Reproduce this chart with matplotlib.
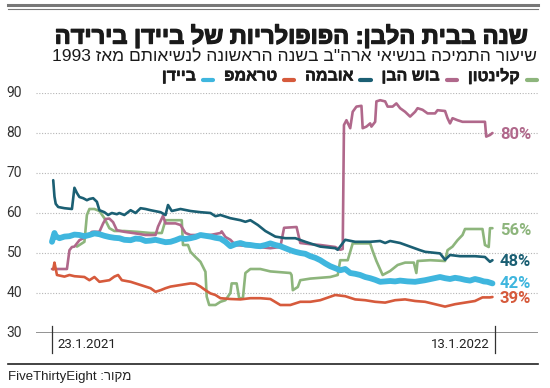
import matplotlib
matplotlib.use("Agg")
import matplotlib.pyplot as plt
import matplotlib.patheffects as pe

# days since inauguration (0 = day 1) and approval %
clinton_days = [20, 22, 26, 28, 30, 34, 38, 42, 46, 50, 58, 68, 79, 88, 91, 104, 105, 109, 111, 115,
                119, 123, 124, 126, 131, 135, 139, 143, 144, 148, 150, 153, 155, 159, 167, 175, 183,
                191, 192, 193, 197, 199, 207, 215, 223, 229, 231, 237, 241, 255, 257, 260, 265, 271,
                277, 283, 290, 292, 293, 303, 315, 317, 321, 325, 329, 331, 345, 347, 350, 351, 353]
clinton_vals = [51.6, 52, 52.8, 59.5, 61, 61, 60.5, 58.7, 56.2, 55.5, 55.5, 55.3, 55, 55, 58.2, 58.2,
                52, 52, 50.3, 49, 47.8, 45.3, 39.1, 37, 37, 37.8, 38.2, 40, 42.4, 42.4, 38.7, 38.7,
                45, 46, 46, 45.4, 45.2, 45, 44.5, 40.7, 41.5, 43.2, 43.6, 43.8, 44, 44.5, 48.2, 48.2,
                52.4, 52.4, 50.5, 48, 44.5, 45.5, 47, 47.6, 47.6, 45, 48, 48.2, 48, 50.7, 51.6, 53.2,
                54.5, 56, 56, 52, 51.5, 56.2, 56.2]

bush_days = [0, 12, 14, 16, 18, 22, 29, 32, 38, 41, 43, 46, 49, 52, 58, 67, 75, 83, 85, 89, 91, 99,
             103, 107, 111, 127, 135, 136, 139, 143, 147, 159, 175, 183, 186, 196, 199, 207, 215, 227,
             231, 233, 234, 236, 239, 241, 244, 248, 249, 252, 255, 256, 259, 260, 263, 267, 269, 273,
             276, 279, 283, 287, 291, 293, 297, 301, 307, 309, 315, 317, 319, 321, 325, 329, 347, 348,
             351, 353]
bush_vals = [46, 46, 50.7, 51.5, 51.6, 53.2, 54.3, 55.3, 55.3, 57.4, 58.5, 58.6, 57.7, 55.7, 55.3, 54.9,
             54.5, 54.5, 56.6, 59.3, 57.4, 57.4, 57, 55, 54.5, 54.5, 55, 55.4, 54, 53.3, 52, 51.7, 51.2,
             51.5, 56.3, 56.5, 52.5, 52.2, 52, 51.5, 50.8, 51, 82, 83.2, 81.2, 85.3, 86.6, 86.8, 81.2,
             81.6, 82.4, 81.6, 82.8, 87.9, 88.2, 87.9, 86.6, 86.6, 87.4, 86.2, 85.3, 84.1, 85.3, 86.2,
             85.8, 84.9, 84.9, 85.7, 85.5, 83.7, 82.4, 83.7, 83.2, 82.8, 82.8, 79.1, 79.5, 80]

obama_days = [1, 2, 3, 5, 10, 16, 18, 20, 22, 25, 28, 30, 33, 36, 38, 42, 45, 48, 52, 54, 58, 63, 67,
              71, 75, 79, 87, 91, 93, 96, 103, 111, 119, 127, 131, 135, 143, 151, 155, 159, 165, 171,
              179, 187, 195, 203, 215, 227, 229, 235, 243, 255, 263, 267, 271, 279, 287, 295, 299, 311,
              315, 319, 327, 339, 347, 351, 353]
obama_vals = [68.2, 64.1, 62.3, 61.5, 61.2, 61, 66.3, 65, 64, 63.7, 63.2, 63.5, 63.7, 62.8, 60.7, 60.2,
              59.5, 60, 59.7, 60, 59.5, 60.7, 60, 61.2, 61, 60.7, 60.2, 59.5, 62, 60.5, 61, 60.5, 60.2,
              60, 59.2, 59.5, 58.7, 58.2, 57.8, 58.2, 57, 55.5, 54.1, 53.7, 53.7, 52.8, 51.6, 51.2, 50.8,
              53.3, 52.8, 52.8, 53, 52.5, 53, 52.5, 51.6, 50.7, 50.3, 49.9, 48.3, 49.5, 49.2, 49.2, 49,
              47.8, 48.2]

trump_days = [1, 2, 4, 10, 14, 18, 22, 26, 30, 34, 38, 42, 46, 50, 53, 56, 63, 71, 75, 79, 83, 87, 91,
              95, 103, 107, 111, 115, 119, 123, 127, 131, 135, 143, 151, 159, 167, 175, 183, 191, 199,
              207, 215, 227, 235, 243, 251, 259, 267, 275, 283, 291, 299, 307, 315, 323, 331, 339, 345,
              351, 353]
trump_vals = [45.9, 47.6, 44.5, 44.1, 44.5, 44.2, 44.1, 44, 43.2, 44, 42.8, 43, 43.2, 44.1, 44.5, 43.2,
              42.8, 42, 41.6, 41.2, 40.3, 40.7, 41.2, 41.6, 42, 42.2, 42.4, 42.3, 41.6, 40.7, 39.9, 39.5,
              38.7, 38.5, 38.4, 38.7, 38.7, 38.5, 37, 37, 37.8, 37.8, 38.2, 39.5, 39.2, 38.4, 38.2, 37.8,
              37.6, 38.2, 38.4, 38, 37.8, 37.2, 36.6, 37.2, 37.6, 38, 38.9, 38.9, 39]

biden_days = [0, 2, 3, 6, 10, 14, 18, 22, 26, 30, 34, 38, 42, 46, 50, 54, 58, 63, 67, 71, 75, 79, 83,
              87, 91, 95, 99, 103, 107, 111, 115, 119, 123, 127, 131, 135, 139, 143, 147, 151, 155,
              159, 163, 167, 171, 175, 179, 183, 187, 191, 195, 199, 203, 207, 211, 215, 219, 223, 227,
              231, 235, 239, 243, 247, 251, 255, 259, 263, 267, 271, 275, 279, 285, 291, 295, 299, 305,
              311, 315, 319, 323, 327, 331, 335, 339, 343, 346, 349, 353]
biden_vals = [52.8, 55, 54.2, 53.7, 54.1, 54.2, 54.6, 54.5, 54.2, 54.5, 54.9, 54.7, 54.3, 54, 53.8, 53.7,
              53.3, 53.2, 53.6, 53.5, 53.0, 53.1, 53.3, 53, 52.7, 52.8, 53.2, 53.7, 53.5, 53.7, 54.0,
              54.5, 54.3, 54.1, 53.8, 53.6, 52.8, 51.7, 52.2, 52.5, 52.1, 52, 51.8, 51.7, 52.0, 52.4,
              52.0, 51.7, 51.2, 50.7, 50.3, 50, 49.8, 49.2, 48.8, 48.2, 47.4, 46.7, 46.2, 45.7, 46,
              45, 44.8, 44.5, 44.0, 43.7, 43.3, 42.8, 42.9, 43, 42.9, 43.1, 42.9, 42.8, 43.0, 43.2, 43.6,
              44, 43.7, 43.5, 43.8, 43.6, 43.3, 43.1, 43.5, 43.2, 42.9, 42.8, 42.4]

names = ["קלינטון", "בוש הבן", "אובמה", "טראמפ", "ביידן"]
colors = ["#8db57c", "#b0688b", "#1b5f73", "#d65a3c", "#3fb6de"]
end_labels = ["56%", "80%", "48%", "39%", "42%"]
end_label_y = [55.6, 79.6, 47.9, 38.6, 42.4]
yticks = [30, 40, 50, 60, 70, 80, 90]
tick_days = [0, 355]
tick_labels = ["23.1.2021", "13.1.2022"]

title = "שנה בבית הלבן: הפופולריות של ביידן בירידה"
subtitle = "שיעור התמיכה בנשיאי ארה\"ב בשנה הראשונה לנשיאותם מאז"
subtitle_year = "1993"
source_label = "מקור:"
source_name = "FiveThirtyEight"


def rtl(s):
    # matplotlib has no bidi support, so flip Hebrew into visual order
    return s[::-1]


W, H = 550, 388
plt.rcParams["font.family"] = ["Liberation Sans", "DejaVu Sans"]

fig = plt.figure(figsize=(W / 100, H / 100), dpi=100)


def fx(x):
    return x / W


def fy(y):
    return 1 - y / H


ax = fig.add_axes([fx(36), fy(333), (538 - 36) / W, (333 - 93) / H])
ax.set_xlim(-12.8, 389.5)
ax.set_ylim(30, 90)
for s in ax.spines.values():
    s.set_visible(False)
ax.set_xticks([])
ax.set_yticks([])
ax.patch.set_alpha(0)

for v in yticks[1:]:
    ax.axhline(v, color="#b5b5b5", lw=0.8, ls=(0, (1, 1.5)), zorder=1)
ax.axhline(yticks[0], color="#8a8a8a", lw=1.3, zorder=1)
for v in yticks:
    ax.text(-24, v, str(v), ha="right", va="center", fontsize=10, color="#333333",
            family="Roboto")

series = [(clinton_days, clinton_vals), (bush_days, bush_vals), (obama_days, obama_vals),
          (trump_days, trump_vals), (biden_days, biden_vals)]
widths = [1.9, 1.9, 1.9, 1.9, 4.2]
for (d, v), c, lw in zip(series, colors, widths):
    ax.plot(d, v, color=c, lw=lw, solid_joinstyle="round", solid_capstyle="round", zorder=3)

for lab, yv, c in zip(end_labels, end_label_y, colors):
    ax.text(359, yv, lab, color=c, fontsize=12, fontweight="bold", ha="left", va="center",
            family="Roboto")

# date ticks below the axis
for d, lab, ha, off in zip(tick_days, tick_labels, ["left", "right"], [4, -4]):
    ax.plot([d, d], [31.75, 25], color="#333333", lw=0.9, clip_on=False)
    ax.text(d + off, 27, lab, ha=ha, va="center", fontsize=9.5, color="#222222", family="Roboto")

# header
fig.add_artist(plt.Line2D([fx(8), fx(538)], [fy(5), fy(5)], color="#777777", lw=2.2))
fig.add_artist(plt.Line2D([fx(8), fx(538)], [fy(9), fy(9)], color="#777777", lw=0.8))
fig.text(fx(529), fy(36), rtl(title), ha="right", va="center", fontsize=17,
         fontweight="bold", color="#1a1a1a",
         path_effects=[pe.withStroke(linewidth=0.9, foreground="#1a1a1a")])
fig.text(fx(537), fy(57), subtitle_year + " " + rtl(subtitle), ha="right", va="center",
         fontsize=12.5, color="#1a1a1a")

# legend, right to left: swatch then name
lx = 537
for n, c in zip(names, colors):
    fig.add_artist(plt.Line2D([fx(lx - 10), fx(lx)], [fy(80), fy(80)], color=c, lw=3,
                              solid_capstyle="round"))
    t = fig.text(fx(lx - 17), fy(76), rtl(n), ha="right", va="center", fontsize=11.5,
                 fontweight="bold", color="#1a1a1a",
                 path_effects=[pe.withStroke(linewidth=0.4, foreground="#1a1a1a")])
    fig.canvas.draw()
    bb = t.get_window_extent()
    lx = bb.x0 - 11

# footer
fig.add_artist(plt.Line2D([fx(8), fx(538)], [fy(364), fy(364)], color="#222222", lw=1.2))
fig.text(fx(8), fy(377), source_name + " " + rtl(source_label), ha="left", va="center",
         fontsize=9.5, color="#222222")

fig.savefig("out.png", dpi=100)
